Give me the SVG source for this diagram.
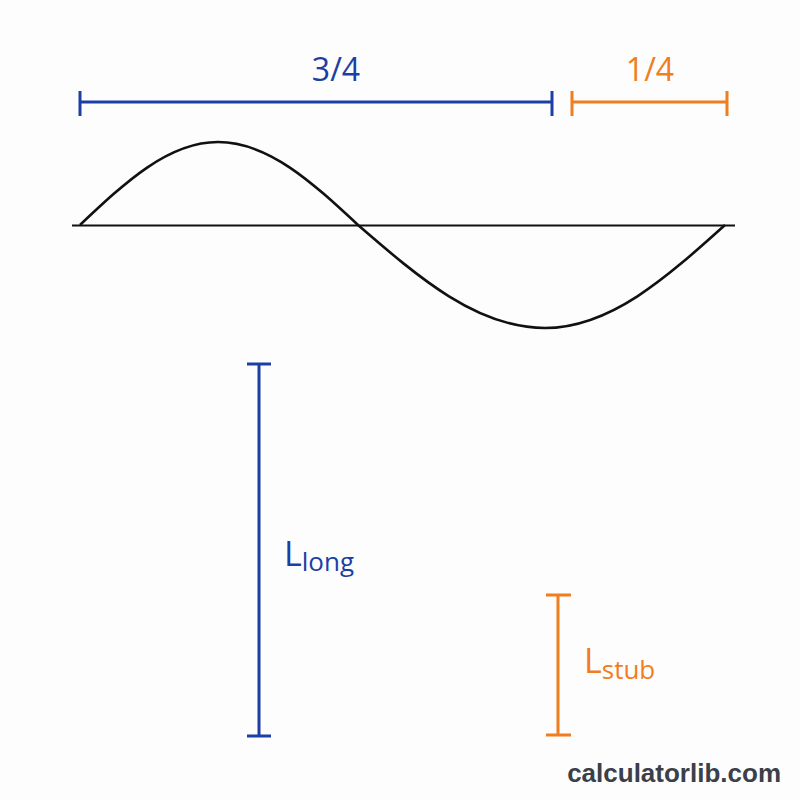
<svg xmlns="http://www.w3.org/2000/svg" width="800" height="800" viewBox="0 0 800 800">
<style>
.blue{stroke:#1c3fa6;stroke-width:3;fill:none}
.orange{stroke:#f07d1e;stroke-width:3;fill:none}
.bt{fill:#1c3fa6;font-family:"Open Sans","Noto Sans",sans-serif}
.ot{fill:#f07d1e;font-family:"Open Sans","Noto Sans",sans-serif}
.wave{stroke:#111;stroke-width:2.6;fill:none}
</style>
<rect width="800" height="800" fill="#fdfdfd"/>
<g id="wave">
<line x1="72" y1="225.5" x2="735" y2="225.5" stroke="#111" stroke-width="2"/>
<path class="wave" d="M80,225 C125,182.5 168,142 218,142 C268.7,142 312.3,182.5 358,225 C419,277.8 477.3,328 545,328 C610.1,328 666.3,277.8 725,225"/>
</g>
<g id="bar-3-4">
<path class="blue" d="M80,102 H552 M80,91 V116 M552,91 V116"/>
<text class="bt" x="336" y="81" font-size="32" text-anchor="middle">3/4</text>
</g>
<g id="bar-1-4">
<path class="orange" d="M572,102 H727 M572,91 V116 M727,91 V116"/>
<text class="ot" x="650" y="81" font-size="32" text-anchor="middle">1/4</text>
</g>
<g id="L-long">
<path class="blue" d="M259,364 V736 M247,364 H271 M247,736 H271"/>
<text class="bt" x="284" y="566" font-size="34">L<tspan font-size="26" dy="5">long</tspan></text>
</g>
<g id="L-stub">
<path class="orange" d="M558,595 V735 M546,595 H571 M546,735 H571"/>
<text class="ot" x="584" y="673" font-size="34">L<tspan font-size="26" dy="6">stub</tspan></text>
</g>
<text x="781" y="782" font-family="'Liberation Sans',Arial,sans-serif" font-weight="bold" font-size="26" fill="#3b3f49" text-anchor="end">calculatorlib.com</text>
</svg>
